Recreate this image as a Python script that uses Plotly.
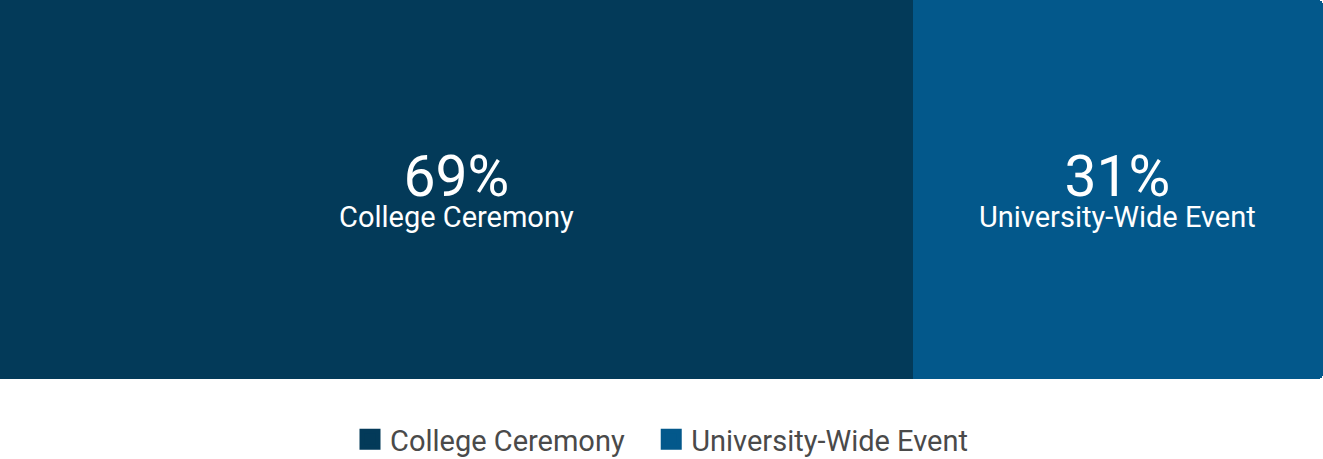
import plotly.graph_objects as go

categories = ["College Ceremony", "University-Wide Event"]
values = [69, 31]
colors = ["#033a59", "#03588b"]
row_label = ["Attendance"]

fig = go.Figure()

cum = 0
annotations = []
for name, val, col in zip(categories, values, colors):
    fig.add_trace(go.Bar(
        y=row_label, x=[val], name=name, orientation="h",
        marker=dict(color=col, line=dict(width=0)),
        showlegend=False, hoverinfo="skip",
    ))
    mid = cum + val / 2
    cum += val
    annotations.append(dict(
        x=mid, y=0.589, xref="x", yref="paper",
        text=(f"<span style='font-size:57px'>{val}%</span><br>"
              f"<span style='font-size:29px'>{name}</span>"),
        showarrow=False, yanchor="middle", align="center",
        font=dict(family="Roboto", size=24, color="white")))

# legend entries
for i, (name, col) in enumerate(zip(categories, colors)):
    pad = "\u00a0\u00a0\u00a0" if i < len(categories) - 1 else ""
    fig.add_trace(go.Scatter(
        x=[None], y=[None], mode="markers", name=name + pad,
        marker=dict(symbol="square", size=16, color=col,
                    line=dict(color=col, width=5)),
        showlegend=True,
    ))

fig.update_layout(
    width=1323, height=459,
    margin=dict(l=0, r=0, t=0, b=0, autoexpand=False),
    barmode="stack", bargap=0, barcornerradius=5,
    plot_bgcolor="white", paper_bgcolor="white",
    xaxis=dict(range=[0, sum(values)], visible=False, fixedrange=True),
    yaxis=dict(domain=[80 / 459, 1], visible=False, fixedrange=True),
    annotations=annotations,
    legend=dict(orientation="h", x=0.5, xanchor="center", y=-0.013, yanchor="bottom",
                traceorder="normal",
                font=dict(family="Roboto", size=29, color="#4a4a4a"),
                itemwidth=30, tracegroupgap=0),
    font=dict(family="Roboto"),
)

fig.write_html("out.html", config=dict(displayModeBar=False),
               post_script="document.body.style.margin='0';document.body.style.overflow='hidden';")
